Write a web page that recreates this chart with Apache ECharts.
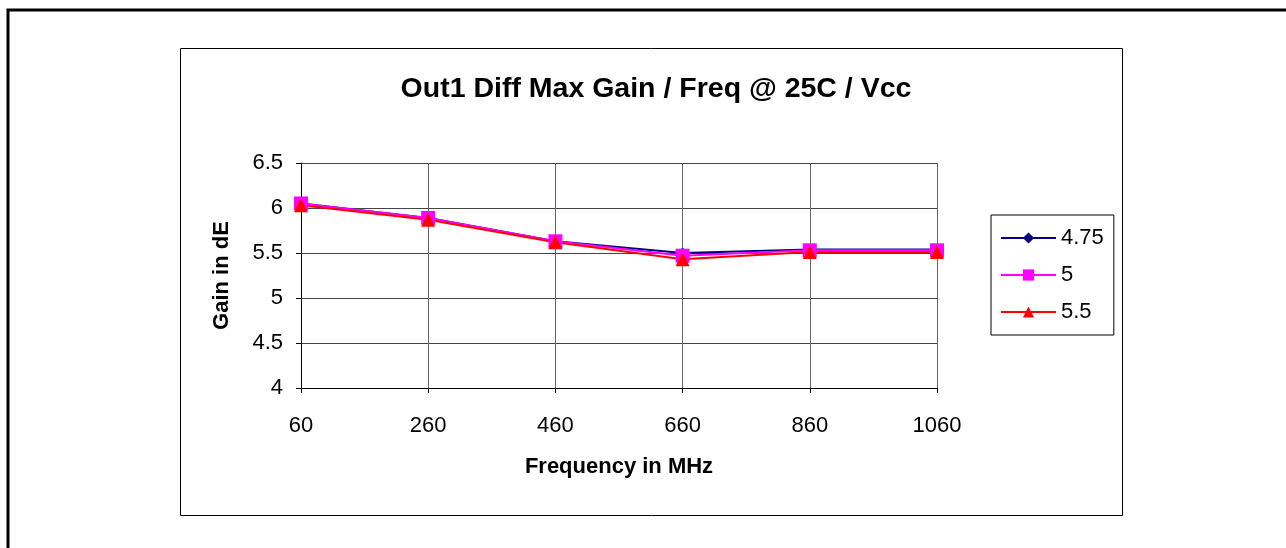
<!DOCTYPE html>
<html><head><meta charset="utf-8">
<script src="https://cdn.jsdelivr.net/npm/echarts@6/dist/echarts.min.js"></script>
<style>html,body{margin:0;padding:0;background:#fff}#c{width:1286px;height:548px}</style>
</head><body><div id="c"></div>
<script>
const categories = ['60', '260', '460', '660', '860', '1060'];
const seriesNames = ['4.75', '5', '5.5'];
const v475 = [6.05, 5.89, 5.63, 5.50, 5.54, 5.54];
const v5 = [6.05, 5.89, 5.63, 5.47, 5.53, 5.53];
const v55 = [6.03, 5.87, 5.62, 5.43, 5.51, 5.51];

const FONT = 'Liberation Sans, Arial, sans-serif';
const chart = echarts.init(document.getElementById('c'), null, {renderer: 'canvas'});
function mk(name, data, color, symbol, size) {
  return {
    name, type: 'line', data, symbol, symbolSize: size,
    lineStyle: {color, width: 2}, itemStyle: {color}, animation: false,
    emphasis: {disabled: true}
  };
}
chart.setOption({
  animation: false,
  graphic: [
    {type: 'rect', shape: {x: 8, y: 10, width: 1400, height: 700}, style: {fill: 'none', stroke: '#000', lineWidth: 3}, silent: true},
    {type: 'rect', shape: {x: 180.5, y: 48.5, width: 942, height: 467}, style: {fill: 'none', stroke: '#000', lineWidth: 1}, silent: true},
    {type: 'rect', shape: {x: 301.5, y: 163.5, width: 636, height: 225}, style: {fill: 'none', stroke: '#999', lineWidth: 1}, silent: true, z: -1}
  ],
  title: {
    text: 'Out1 Diff Max Gain / Freq @ 25C / Vcc',
    left: 651, top: 70, textAlign: 'center',
    textStyle: {fontFamily: FONT, fontSize: 28.5, fontWeight: 'bold', color: '#000'}
  },
  legend: {
    orient: 'vertical', left: 991, top: 215,
    data: seriesNames,
    borderColor: '#000', borderWidth: 1,
    padding: [12, 10, 12, 9],
    itemWidth: 55, itemHeight: 14, itemGap: 15,
    textStyle: {fontFamily: FONT, fontSize: 22, color: '#000', padding: [0, 0, 0, 0]},
    selectedMode: false
  },
  grid: {left: 301, right: 349, top: 163, bottom: 160, containLabel: false},
  xAxis: {
    type: 'category', data: categories, boundaryGap: false,
    name: 'Frequency in MHz', nameLocation: 'middle', nameGap: 68,
    nameTextStyle: {fontFamily: FONT, fontSize: 22, fontWeight: 'bold', color: '#000'},
    axisLine: {lineStyle: {color: '#000', width: 1}},
    axisTick: {show: true, length: 5, lineStyle: {color: '#000'}},
    axisLabel: {fontFamily: FONT, fontSize: 22, color: '#000', margin: 27},
    splitLine: {show: true, lineStyle: {color: '#666', width: 1}}
  },
  yAxis: {
    type: 'value', min: 4, max: 6.5, interval: 0.5,
    name: 'Gain in dE', nameLocation: 'middle', nameGap: 68,
    nameTextStyle: {fontFamily: FONT, fontSize: 22, fontWeight: 'bold', color: '#000'},
    axisLine: {show: true, lineStyle: {color: '#000', width: 1}},
    axisTick: {show: true, length: 5, lineStyle: {color: '#000'}},
    axisLabel: {fontFamily: FONT, fontSize: 22, color: '#000', margin: 18,
      formatter: v => String(v)},
    splitLine: {show: true, lineStyle: {color: '#444', width: 1}}
  },
  series: [
    mk('4.75', v475, '#000080', 'diamond', 11),
    mk('5', v5, '#FF00FF', 'rect', 14),
    mk('5.5', v55, '#FF0000', 'triangle', 14)
  ]
});
</script></body></html>
